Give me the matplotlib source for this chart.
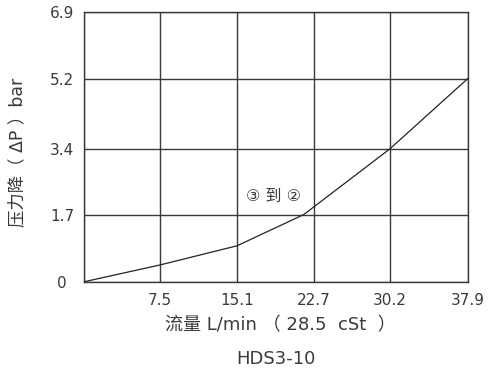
import matplotlib
matplotlib.use("Agg")
import matplotlib.pyplot as plt

# data
flow = [0, 7.5, 15.1, 21.7, 30.2, 37.9]
dp = [0, 0.43, 0.92, 1.72, 3.4, 5.2]
xticks = [0, 7.5, 15.1, 22.7, 30.2, 37.9]
xtick_labels = ["", "7.5", "15.1", "22.7", "30.2", "37.9"]
yticks = [0, 1.7, 3.4, 5.2, 6.9]
ytick_labels = ["0", "1.7", "3.4", "5.2", "6.9"]

FAM = ['DejaVu Sans', 'Noto Sans CJK SC']
plt.rcParams['font.family'] = FAM
TXT = '#3a3a3a'
GRID = '#3a3a3a'

fig = plt.figure(figsize=(4.89, 3.72), dpi=100)
ax = fig.add_axes([0.1724, 0.2427, 0.784, 0.7243])

ax.plot(flow, dp, color='#222222', lw=0.9, zorder=3)
ax.set_xlim(0, 37.9)
ax.set_ylim(0, 6.9)
ax.set_xticks(xticks)
ax.set_xticklabels(xtick_labels)
ax.set_yticks(yticks)
ax.set_yticklabels(ytick_labels, ha='center')
ax.tick_params(axis='both', length=0, labelsize=11, colors=TXT)
ax.tick_params(axis='y', pad=16)
ax.tick_params(axis='x', pad=8)
ax.grid(True, color=GRID, lw=1.0)
for s in ax.spines.values():
    s.set_color(GRID)
    s.set_linewidth(1.0)

ax.text(18.73, 2.18, "③ 到 ②", family=FAM, fontsize=11.5, color=TXT,
        ha='center', va='center')

fig.text(280.5 / 489, 1 - 325 / 372, "流量 L/min （ 28.5  cSt  ）", family=FAM,
         fontsize=13, color=TXT, ha='center', va='center')
fig.text(275.8 / 489, 1 - 359 / 372, "HDS3-10", fontsize=13, color=TXT,
         ha='center', va='center')
fig.text(17 / 489, 1 - 152 / 372, "压力降（ ΔP ）bar", family=FAM,
         fontsize=12.5, color=TXT, ha='center', va='center', rotation=90)

fig.savefig("out.png", dpi=100)
